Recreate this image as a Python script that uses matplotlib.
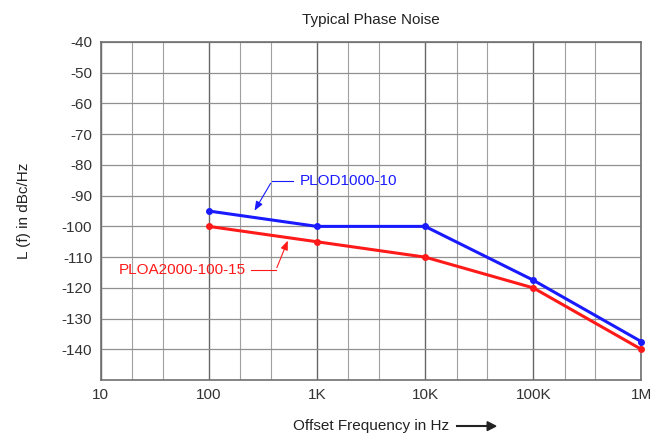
import numpy as np
import matplotlib.pyplot as plt
from matplotlib.ticker import FixedLocator, FuncFormatter

plt.rcParams['font.family'] = ['Liberation Sans', 'DejaVu Sans']
plt.rcParams['font.size'] = 11
plt.rcParams['axes.unicode_minus'] = False

## the data
freq = [100, 1e3, 1e4, 1e5, 1e6]
plod = [-95, -100, -100, -117.5, -137.5]
ploa = [-100, -105, -110, -120, -140]
decades = [10, 100, 1e3, 1e4, 1e5, 1e6]
dec_labels = ['10', '100', '1K', '10K', '100K', '1M']
yticks = np.arange(-140, -30, 10)

fig = plt.figure(figsize=(6.68, 4.41), dpi=100)
ax = fig.add_axes([0.1506, 0.138, 0.8097, 0.767])

ax.plot(freq, ploa, color='#ff1a1a', lw=2.2, marker='o', ms=4, zorder=5, clip_on=False)
ax.plot(freq, plod, color='#1a1aff', lw=2.2, marker='o', ms=4, zorder=6, clip_on=False)

ax.set_xscale('log')
ax.set_xlim(10, 1e6)
ax.set_ylim(-150, -40)

# grid
ax.xaxis.set_major_locator(FixedLocator(decades))
ax.xaxis.set_major_formatter(FuncFormatter(lambda v, p: dec_labels[decades.index(v)] if v in decades else ''))
minors = [d * m for d in decades[:-1] for m in (1.95, 3.75)]
ax.xaxis.set_minor_locator(FixedLocator(minors))
ax.xaxis.set_minor_formatter(FuncFormatter(lambda v, p: ''))
ax.set_yticks(yticks)
ax.grid(True, which='major', axis='x', color='#666666', lw=1.0)
ax.grid(True, which='minor', axis='x', color='#a0a0a0', lw=0.8)
ax.grid(True, which='major', axis='y', color='#909090', lw=0.9)
ax.tick_params(which='both', length=0, pad=6, labelsize=11, colors='#333333')
for s in ax.spines.values():
    s.set_color('#707070')
    s.set_linewidth(1.2)

ax.set_title('Typical Phase Noise', fontsize=11, pad=13, color='#222222')
ax.set_ylabel('L (f) in dBc/Hz', fontsize=11, color='#222222', labelpad=22)
ax.set_xlabel('Offset Frequency in Hz', fontsize=11, color='#222222', labelpad=12)
fig.canvas.draw()
xl = ax.xaxis.label
bb = xl.get_window_extent()
x0 = bb.x1 / fig.bbox.width + 0.012
yc = (bb.y0 + bb.y1) / 2 / fig.bbox.height
fig.add_artist(plt.Line2D([x0, x0 + 0.045], [yc, yc], color='#222222', lw=1.5, transform=fig.transFigure))
fig.add_artist(plt.Polygon([[x0 + 0.045, yc + 0.010], [x0 + 0.045, yc - 0.010], [x0 + 0.058, yc]],
                           closed=True, color='#222222', transform=fig.transFigure))

# series labels with leader arrows
ax.text(0.369, 0.589, 'PLOD1000-10', transform=ax.transAxes, color='#1a1aff',
        ha='left', va='center', fontsize=11)
ax.plot([0.356, 0.317], [0.589, 0.589], transform=ax.transAxes, color='#1a1aff', lw=0.8)
ax.annotate('', xy=(0.282, 0.494), xycoords='axes fraction', xytext=(0.317, 0.589),
            textcoords='axes fraction',
            arrowprops=dict(arrowstyle='-|>,head_length=0.5,head_width=0.2', color='#1a1aff', lw=0.8))

ax.text(0.269, 0.325, 'PLOA2000-100-15', transform=ax.transAxes, color='#ff1a1a',
        ha='right', va='center', fontsize=11)
ax.plot([0.278, 0.324], [0.325, 0.325], transform=ax.transAxes, color='#ff1a1a', lw=0.8)
ax.annotate('', xy=(0.348, 0.420), xycoords='axes fraction', xytext=(0.324, 0.325),
            textcoords='axes fraction',
            arrowprops=dict(arrowstyle='-|>,head_length=0.5,head_width=0.2', color='#ff1a1a', lw=0.8))

fig.savefig('out.png', dpi=100)
